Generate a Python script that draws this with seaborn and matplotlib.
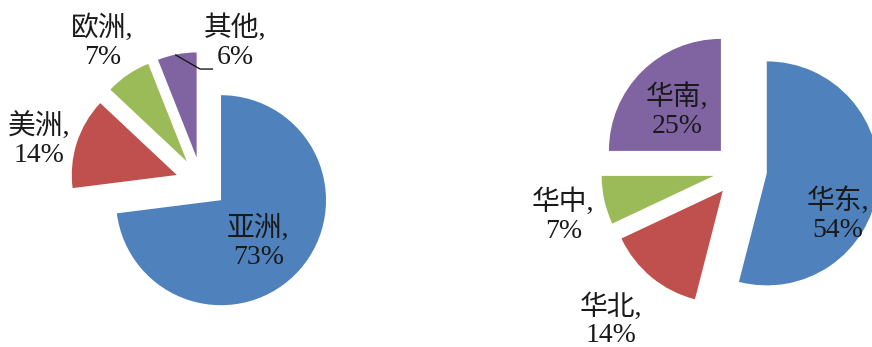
import numpy as np
import matplotlib
matplotlib.use("Agg")
import matplotlib.pyplot as plt
import seaborn as sns

# ---- data ----
left_labels = ["亚洲", "美洲", "欧洲", "其他"]
left_values = [73, 14, 7, 6]
right_labels = ["华东", "华北", "华中", "华南"]
right_values = [54, 14, 7, 25]

colors = ["#4F81BD", "#C0504D", "#9BBB59", "#8064A2"]

sns.set_style("white")
plt.rcParams["font.family"] = ["Liberation Serif", "Noto Sans CJK SC", "DejaVu Sans"]

W, H = 872, 347
fig = plt.figure(figsize=(W / 100, H / 100), dpi=100)
ax = fig.add_axes([0, 0, 1, 1])

# layout (pixel units, y measured upward)
left_center = (201.5, H - 183)
left_radius = 105
left_explode = 26
right_center = (740, H - 170)
right_radius = 112
right_explode = 27

wl, _ = ax.pie(left_values, colors=colors, startangle=90, counterclock=False,
               explode=[left_explode] * 4, center=left_center, radius=left_radius,
               wedgeprops=dict(linewidth=0))
wr, _ = ax.pie(right_values, colors=colors, startangle=90, counterclock=False,
               explode=[right_explode] * 4, center=right_center, radius=right_radius,
               wedgeprops=dict(linewidth=0))

ax.set_xlim(0, W)
ax.set_ylim(0, H)
ax.set_aspect("auto")
ax.axis("off")

# label placement: (radial factor, angle in degrees) relative to pie centre
left_label_pos = [(0.78, -46.2), (1.60, 165.2), (1.64, 125.2), (1.38, 76.6)]
right_label_pos = [(0.96, -24.7), (1.77, -130.5), (1.63, -165.4), (0.77, 136.9)]

txtkw = dict(fontsize=20, color="#1a1a1a", ha="center", va="center",
             multialignment="center", linespacing=1.15)


def place(labels, values, pos, center, radius):
    for lab, val, (f, ang) in zip(labels, values, pos):
        a = np.deg2rad(ang)
        x = center[0] + f * radius * np.cos(a)
        y = center[1] + f * radius * np.sin(a)
        ax.text(x, y, f"{lab},\n{val}%", **txtkw)


place(left_labels, left_values, left_label_pos, left_center, left_radius)
place(right_labels, right_values, right_label_pos, right_center, right_radius)

# leader line for the small "其他" slice
w = wl[3]
mid = np.deg2rad((w.theta1 + w.theta2) / 2 + 1)
sx = w.center[0] + w.r * np.cos(mid)
sy = w.center[1] + w.r * np.sin(mid)
f, ang = left_label_pos[3]
tx = left_center[0] + f * left_radius * np.cos(np.deg2rad(ang))
ty = left_center[1] + f * left_radius * np.sin(np.deg2rad(ang))
ex, ey = tx - 22, ty - 27
ax.plot([sx, ex - 13, ex], [sy, ey, ey], color="#1a1a1a", lw=1.0,
        solid_capstyle="butt")

fig.savefig("out.png", dpi=100)
